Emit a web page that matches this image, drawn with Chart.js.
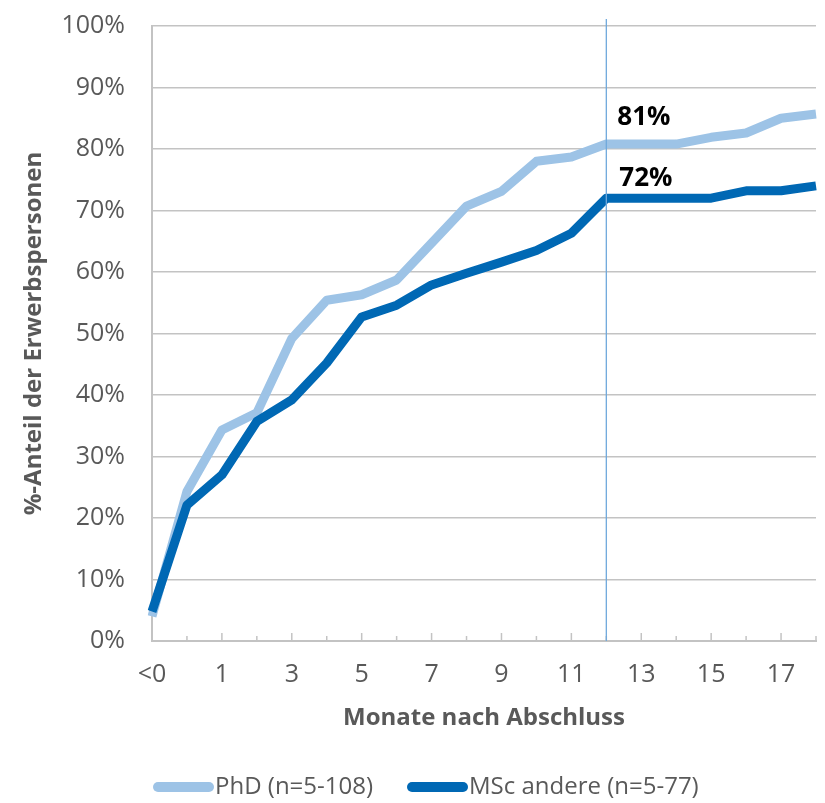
<!DOCTYPE html>
<html>
<head>
<meta charset="utf-8">
<script src="https://cdn.jsdelivr.net/npm/chart.js@4/dist/chart.umd.min.js"></script>
<style>
  html, body { margin: 0; padding: 0; background: #fff; }
  #wrap { width: 825px; height: 803px; }
</style>
</head>
<body>
<div id="wrap"><canvas id="chart" width="825" height="803"></canvas></div>
<script>
  // Monate nach Abschluss
  const months = ['<0', '0', '1', '2', '3', '4', '5', '6', '7', '8', '9', '10', '11', '12', '13', '14', '15', '16', '17', '18'];
  // %-Anteil der Erwerbspersonen
  const phdValues = [4.0, 24.3, 34.3, 37.1, 49.2, 55.4, 56.3, 58.7, 64.7, 70.7, 73.1, 78.0, 78.7, 80.8, 80.8, 80.8, 81.9, 82.6, 85.0, 85.7];
  const mscValues = [4.8, 22.1, 27.0, 35.7, 39.2, 45.2, 52.7, 54.6, 57.9, 59.8, 61.6, 63.5, 66.3, 72.0, 72.0, 72.0, 72.0, 73.2, 73.2, 74.0];
  const seriesNames = ['PhD (n=5-108)', 'MSc andere (n=5-77)'];
  const yTicks = [0, 10, 20, 30, 40, 50, 60, 70, 80, 90, 100];
  const markerMonth = '12';

  const LIGHT = '#9DC3E6';
  const DARK = '#0068B4';
  const TEXT = '#595959';
  const GRID = '#C3C3C3';

  Chart.defaults.font.family = "'Open Sans', 'DejaVu Sans', sans-serif";
  Chart.defaults.color = TEXT;

  // Vertical marker line, value labels, inside ticks and the legend
  const extras = {
    id: 'extras',
    afterDatasetsDraw(chart) {
      const ctx = chart.ctx;
      const x = chart.scales.x;
      const area = chart.chartArea;
      const mi = months.indexOf(markerMonth);
      const mx = x.getPixelForValue(mi);

      ctx.save();
      // inside tick marks on the x axis
      ctx.strokeStyle = GRID;
      ctx.lineWidth = 1.5;
      for (let i = 1; i < months.length; i++) {
        const px = x.getPixelForValue(i);
        const len = i % 2 === 0 ? 8 : 5;
        ctx.beginPath();
        ctx.moveTo(px, area.bottom);
        ctx.lineTo(px, area.bottom - len);
        ctx.stroke();
      }

      // marker line at 12 months
      ctx.strokeStyle = '#6FA8DC';
      ctx.lineWidth = 1.3;
      ctx.beginPath();
      ctx.moveTo(mx, area.top - 7);
      ctx.lineTo(mx, area.bottom);
      ctx.stroke();

      // value labels at the marker
      ctx.fillStyle = '#000';
      ctx.font = "bold 26px 'Open Sans', sans-serif";
      ctx.textAlign = 'left';
      ctx.textBaseline = 'middle';
      const p0 = chart.getDatasetMeta(0).data[mi];
      const p1 = chart.getDatasetMeta(1).data[mi];
      ctx.fillText(Math.round(phdValues[mi]) + '%', p0.x + 11, p0.y - 26);
      ctx.fillText(Math.round(mscValues[mi]) + '%', p1.x + 13, p1.y - 20);

      // legend
      const ly = 787;
      const items = [
        { x: 153, color: LIGHT, text: seriesNames[0] },
        { x: 407, color: DARK, text: seriesNames[1] }
      ];
      ctx.font = "24px 'Open Sans', sans-serif";
      ctx.fillStyle = TEXT;
      items.forEach(it => {
        ctx.strokeStyle = it.color;
        ctx.lineWidth = 10;
        ctx.lineCap = 'round';
        ctx.beginPath();
        ctx.moveTo(it.x + 5, ly);
        ctx.lineTo(it.x + 56, ly);
        ctx.stroke();
        ctx.fillText(it.text, it.x + 62, ly);
      });
      ctx.restore();
    }
  };

  new Chart(document.getElementById('chart'), {
    type: 'line',
    data: {
      labels: months,
      datasets: [
        {
          label: seriesNames[0],
          data: phdValues,
          borderColor: LIGHT,
          backgroundColor: LIGHT,
          borderWidth: 9,
          pointRadius: 0,
          tension: 0,
          borderJoinStyle: 'round',
          order: 1
        },
        {
          label: seriesNames[1],
          data: mscValues,
          borderColor: DARK,
          backgroundColor: DARK,
          borderWidth: 9,
          pointRadius: 0,
          tension: 0,
          borderJoinStyle: 'round',
          order: 0
        }
      ]
    },
    options: {
      responsive: false,
      animation: false,
      layout: { padding: { top: 26, right: 9, left: 0, bottom: 0 } },
      plugins: {
        legend: { display: false },
        tooltip: { enabled: false }
      },
      scales: {
        x: {
          offset: false,
          grid: { drawOnChartArea: false, drawTicks: false },
          border: { color: GRID, width: 2 },
          ticks: {
            autoSkip: false,
            maxRotation: 0,
            padding: 19,
            font: { size: 25 },
            color: TEXT,
            callback: (v, i) => (i % 2 === 0 ? months[i] : '')
          },
          title: {
            display: true,
            text: 'Monate nach Abschluss',
            font: { size: 24, weight: 'bold' },
            color: TEXT,
            padding: { top: 14, bottom: 70 }
          },
          afterFit: s => {
            s.height = 162;
            s.paddingLeft = 0;
            s.paddingRight = 0;
          }
        },
        y: {
          min: 0,
          max: 100,
          afterBuildTicks: s => { s.ticks = yTicks.map(v => ({ value: v })); },
          grid: { color: GRID, lineWidth: 1.5, drawTicks: false },
          border: { color: GRID, width: 2 },
          ticks: {
            padding: 27,
            font: { size: 25 },
            color: TEXT,
            callback: v => v + '%'
          },
          title: {
            display: true,
            text: '%-Anteil der Erwerbspersonen',
            font: { size: 24, weight: 'bold' },
            color: TEXT,
            padding: { top: 20 }
          },
          afterFit: s => {
            s.width = 152;
            s.paddingTop = 0;
            s.paddingBottom = 0;
          }
        }
      }
    },
    plugins: [extras]
  });
</script>
</body>
</html>
